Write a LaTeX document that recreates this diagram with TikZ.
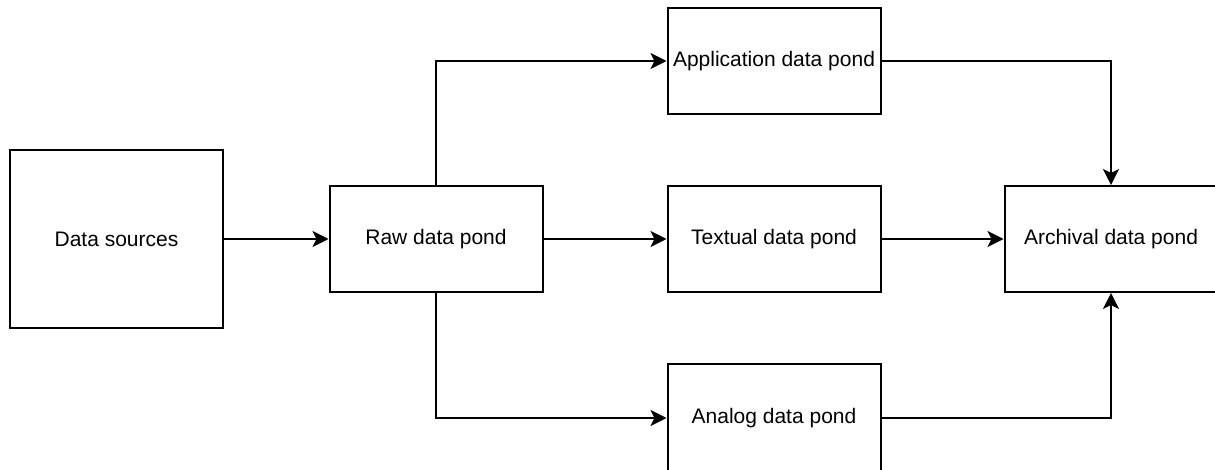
\documentclass[tikz,border=0pt]{standalone}
\usepackage{fontspec}
\setmainfont{Liberation Sans}
\usetikzlibrary{arrows.meta}
\begin{document}
\begin{tikzpicture}[x=1pt,y=-1pt,
  pond/.style={draw, line width=2pt, minimum width=213pt, minimum height=106pt,
    inner sep=0pt, font=\fontsize{21}{25}\selectfont, fill=white},
  link/.style={line width=2pt, -{Stealth[length=16pt,width=16pt,inset=4pt]}}]
  \useasboundingbox (0,0) rectangle (1215,470);
  % boxes
  \node[pond, minimum height=178pt] (src) at (116.5,239) {Data sources};
  \node[pond] (raw) at (436,239) {Raw data pond};
  \node[pond] (app) at (774,61) {Application data pond};
  \node[pond] (txt) at (774,239) {Textual data pond};
  \node[pond, minimum height=108pt] (ana) at (774,418) {Analog data pond};
  \node[pond] (arc) at (1111,239) {Archival data pond};
  % connectors
  \draw[link] (src.east) -- (raw.west);
  \draw[link] (raw.north) |- (app.west);
  \draw[link] (raw.east) -- (txt.west);
  \draw[link] (raw.south) |- (ana.west);
  \draw[link] (app.east) -| (arc.north);
  \draw[link] (txt.east) -- (arc.west);
  \draw[link] (ana.east) -| (arc.south);
\end{tikzpicture}
\end{document}
